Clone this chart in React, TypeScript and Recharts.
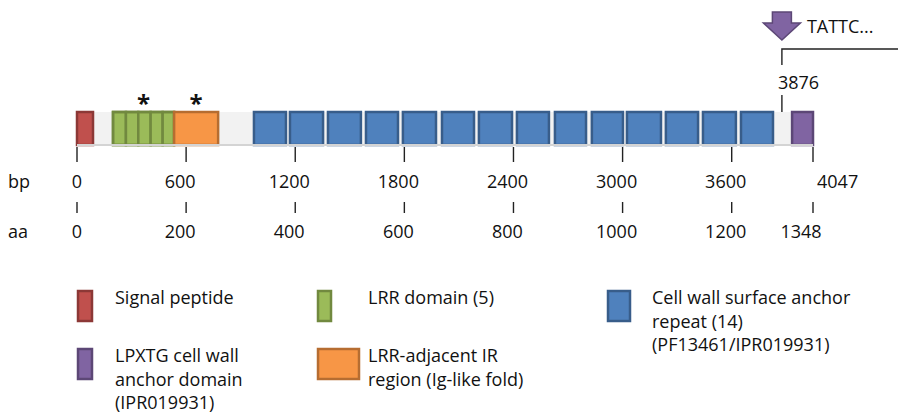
import React from 'react';
import { ComposedChart, XAxis, YAxis, ReferenceArea, ReferenceLine, Legend } from 'recharts';

// ---------- data (bp coordinates along the 4047 bp gene) ----------
const GENE_LENGTH_BP = 4047;
const bpTicks = [0, 600, 1200, 1800, 2400, 3000, 3600, 4047];
const aaTicks = [0, 200, 400, 600, 800, 1000, 1200, 1348];

const signalPeptide = [0, 88];
const lrrDomain = [198, 534];
const lrrRepeatBounds = [198, 269, 337, 405, 471, 534];
const lrrAdjacent = [534, 776];
const anchorRepeatStarts = [973, 1171, 1380, 1589, 1792, 2007, 2210, 2419, 2628, 2831, 3024, 3238, 3442, 3651];
const anchorRepeatEnds = [1149, 1353, 1561, 1765, 1974, 2183, 2392, 2595, 2799, 3002, 3211, 3415, 3623, 3827];
const lpxtgDomain = [3932, 4047];
const markerPosition = 3876;
const markerLabel = 'TATTC...';

const legendLabels = [
  ['Signal peptide'],
  ['LRR domain (5)'],
  ['Cell wall surface anchor', 'repeat (14)', '(PF13461/IPR019931)'],
  ['LPXTG cell wall', 'anchor domain', '(IPR019931)'],
  ['LRR-adjacent IR', 'region (Ig-like fold)'],
];

// ---------- styles ----------
const FONT = '"Open Sans", Lato, sans-serif';
const FS = 18;
const TEXT = '#111';
const RED = { fill: '#c0504d', stroke: '#8c3836' };
const GREEN = { fill: '#9bbb59', stroke: '#71893f' };
const ORANGE = { fill: '#f79646', stroke: '#b66d31' };
const BLUE = { fill: '#4f81bd', stroke: '#385d8a' };
const PURPLE = { fill: '#8064a2', stroke: '#5c4776' };
const legendColors = [RED, GREEN, BLUE, PURPLE, ORANGE];

const tickTable = bpTicks.map((bp, i) => ({ bp, aa: aaTicks[i] }));

const AxisTick = (props: any) => {
  const { x, y, index, payload } = props;
  const n = bpTicks.length;
  const last = index === n - 1;
  const bpDx = index === 0 ? 0 : last ? 4 : -6;
  const aaDx = index === 0 ? 0 : last ? -12 : -6;
  return (
    <g fontFamily={FONT} fontSize={FS} fill={TEXT}>
      {index === 0 && (
        <>
          <text x={x - 69} y={y + 43}>bp</text>
          <text x={x - 69} y={y + 93}>aa</text>
        </>
      )}
      <line x1={x} x2={x} y1={y + 2} y2={y + 17} stroke="#222" strokeWidth={1.4} />
      <text x={x + bpDx} y={y + 43} textAnchor={last ? 'start' : 'middle'}>{payload.value}</text>
      <line x1={x} x2={x} y1={y + 57} y2={y + 68} stroke="#222" strokeWidth={1.4} />
      <text x={x + aaDx} y={y + 93} textAnchor="middle">{aaTicks[index]}</text>
    </g>
  );
};

const StarLabel = (props: any) => {
  const vb = props.viewBox || {};
  return (
    <text x={vb.x + vb.width / 2} y={vb.y + 0} textAnchor="middle" fontFamily={FONT} fontWeight={700} fontSize={24} fill={TEXT}>
      *
    </text>
  );
};

const MarkerShape = (p: any) => {
  const x = p.x1;
  const top = Math.min(p.y1, p.y2);
  const arrow = [
    [x - 9.5, top - 100], [x + 9.5, top - 100], [x + 9.5, top - 89], [x + 18.5, top - 89],
    [x, top - 72], [x - 18.5, top - 89], [x - 9.5, top - 89],
  ].map((pt) => pt.join(',')).join(' ');
  return (
    <g>
      <line x1={x} x2={x} y1={top - 17} y2={top} stroke="#222" strokeWidth={1.4} />
      <text x={x - 4} y={top - 23} fontFamily={FONT} fontSize={FS} fill={TEXT}>{markerPosition}</text>
      <path d={`M${x},${top - 47} L${x},${top - 63} L${x + 200},${top - 63}`} fill="none" stroke="#222" strokeWidth={1.4} />
      <polygon points={arrow} fill={PURPLE.fill} stroke={PURPLE.stroke} strokeWidth={1.5} />
      <text x={x + 25} y={top - 79} fontFamily={FONT} fontSize={FS} fill={TEXT}>{markerLabel}</text>
    </g>
  );
};

const LegendContent = () => {
  const slots = [
    { sx: 77, sy: 10, sw: 16, tx: 115 },
    { sx: 317, sy: 10, sw: 15, tx: 368 },
    { sx: 607, sy: 10, sw: 24, tx: 652 },
    { sx: 77, sy: 68, sw: 16, tx: 115 },
    { sx: 317, sy: 68, sw: 43, tx: 368 },
  ];
  return (
    <svg width={898} height={137} style={{ display: 'block' }}>
      {legendLabels.map((lines, i) => {
        const s = slots[i];
        const c = legendColors[i];
        return (
          <g key={i}>
            <rect x={s.sx + 1} y={s.sy + 1} width={s.sw - 2} height={30} fill={c.fill} stroke={c.stroke} strokeWidth={2.5} />
            {lines.map((ln, j) => (
              <text key={j} x={s.tx} y={s.sy + 14 + j * 23.5} fontFamily={FONT} fontSize={FS} fill={TEXT}>{ln}</text>
            ))}
          </g>
        );
      })}
    </svg>
  );
};

const box = (key: string, x1: number, x2: number, col: { fill: string; stroke: string }, label?: any) => (
  <ReferenceArea
    key={key}
    x1={x1}
    x2={x2}
    y1={0}
    y2={1}
    fill={col.fill}
    fillOpacity={1}
    stroke={col.stroke}
    strokeWidth={2.5}
    label={label}
    ifOverflow="visible"
  />
);

export default function App() {
  return (
    <div style={{ position: 'absolute', left: 0, top: 0, background: '#fff' }}>
      <ComposedChart width={898} height={417} data={tickTable} margin={{ top: 112, right: 85, bottom: 242, left: 77 }}>
        <XAxis
          dataKey="bp"
          type="number"
          domain={[0, GENE_LENGTH_BP]}
          allowDataOverflow
          ticks={bpTicks}
          interval={0}
          axisLine={false}
          tickLine={false}
          tickSize={0}
          tickMargin={0}
          height={30}
          tick={<AxisTick />}
        />
        <YAxis type="number" domain={[0, 1]} allowDataOverflow hide />
        <ReferenceArea x1={0} x2={GENE_LENGTH_BP} y1={0} y2={1} fill="#f2f2f2" fillOpacity={1} stroke="none" ifOverflow="visible" />
        <ReferenceLine y={0} stroke="#d4d4d4" strokeWidth={2} ifOverflow="visible" />
        {box('sp', signalPeptide[0], signalPeptide[1], RED)}
        {lrrRepeatBounds.slice(0, -1).map((b, i) => box(`lrr${i}`, b, lrrRepeatBounds[i + 1], GREEN))}
        {box('lrrd', lrrDomain[0], lrrDomain[1], { fill: 'none', stroke: GREEN.stroke }, <StarLabel />)}
        {box('lrra', lrrAdjacent[0], lrrAdjacent[1], ORANGE, <StarLabel />)}
        {anchorRepeatStarts.map((s, i) => box(`rep${i}`, s, anchorRepeatEnds[i], BLUE))}
        {box('lpxtg', lpxtgDomain[0], lpxtgDomain[1], PURPLE)}
        <ReferenceLine x={markerPosition} ifOverflow="visible" shape={(p: any) => <MarkerShape {...p} />} />
        <Legend layout="horizontal" verticalAlign="middle" align="center" wrapperStyle={{ top: 280, left: 0, width: 898, height: 137 }} content={() => <LegendContent />} />
      </ComposedChart>
    </div>
  );
}
